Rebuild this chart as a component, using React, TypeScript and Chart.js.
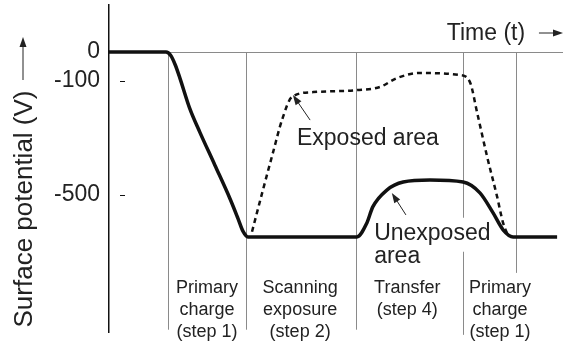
import React, { useEffect, useRef } from "react";
import { Chart, registerables } from "chart.js";

Chart.register(...registerables);

// ---- data ----
const solidT = [0, 12.56, 13.6, 14.6, 15.6, 17.8, 20.0, 23.3, 26.7, 28.4, 29.5, 30.6, 54.6, 56.8, 58.1, 61.2, 64.8, 70.7, 78.0, 81.7, 84.6, 86.8, 89.0, 98.7];
const solidV = [0, 0, -12, -45, -90, -198, -280, -395, -515, -582, -627, -647, -647, -598, -542, -483, -455, -448, -455, -493, -563, -622, -647, -647];

const exposedT = [31.5, 33.9, 36.1, 38.1, 40.3, 45.0, 54.6, 59.7, 63.4, 68.5, 77.3, 79.5, 81.1, 83.3, 85.5, 86.8, 87.9];
const exposedV = [-629, -483, -353, -238, -157, -140, -133, -122, -91, -73, -80, -105, -213, -367, -507, -598, -643];

const yTicks = [0, -100, -500];
const stageT = [13.0, 30.2, 54.4, 78.0, 89.6];
const stageLabelT = [21.6, 42.1, 65.7, 86.1];
const stageLabels = [
  ["Primary", "charge", "(step 1)"],
  ["Scanning", "exposure", "(step 2)"],
  ["Transfer", "(step 4)"],
  ["Primary", "charge", "(step 1)"],
];

const FONT = '"Liberation Sans", Arial, Helvetica, sans-serif';
const TEXT = "#222";

function arrow(ctx: CanvasRenderingContext2D, x1: number, y1: number, x2: number, y2: number, head: number, width: number) {
  ctx.save();
  ctx.strokeStyle = TEXT;
  ctx.fillStyle = TEXT;
  ctx.lineWidth = 1;
  const a = Math.atan2(y2 - y1, x2 - x1);
  ctx.beginPath();
  ctx.moveTo(x1, y1);
  ctx.lineTo(x2 - Math.cos(a) * head * 0.8, y2 - Math.sin(a) * head * 0.8);
  ctx.stroke();
  ctx.beginPath();
  ctx.moveTo(x2, y2);
  ctx.lineTo(x2 - Math.cos(a) * head - Math.sin(a) * width, y2 - Math.sin(a) * head + Math.cos(a) * width);
  ctx.lineTo(x2 - Math.cos(a) * head + Math.sin(a) * width, y2 - Math.sin(a) * head - Math.cos(a) * width);
  ctx.closePath();
  ctx.fill();
  ctx.restore();
}

const decor = {
  id: "decor",
  beforeDatasetsDraw(chart: any) {
    const ctx = chart.ctx as CanvasRenderingContext2D;
    const xs = chart.scales.x;
    const ys = chart.scales.y;
    const area = chart.chartArea;
    ctx.save();
    ctx.strokeStyle = "#8a8a8a";
    ctx.lineWidth = 1;
    // zero line
    const y0 = Math.round(ys.getPixelForValue(0)) + 0.5;
    ctx.beginPath();
    ctx.moveTo(area.left, y0);
    ctx.lineTo(area.right, y0);
    ctx.stroke();
    // stage boundaries
    const segs: number[][][] = [
      [[0, ys.min + 8]],
      [[0, ys.min + 8]],
      [[0, -972]],
      [[0, -580], [-699, ys.min - 10]],
      [[0, -773]],
    ];
    stageT.forEach((t, i) => {
      const x = Math.round(xs.getPixelForValue(t)) + 0.5;
      segs[i].forEach(([a, b]) => {
        ctx.beginPath();
        ctx.moveTo(x, ys.getPixelForValue(a));
        ctx.lineTo(x, ys.getPixelForValue(b));
        ctx.stroke();
      });
    });
    ctx.restore();
  },
  afterDraw(chart: any) {
    const ctx = chart.ctx as CanvasRenderingContext2D;
    const xs = chart.scales.x;
    const ys = chart.scales.y;
    const area = chart.chartArea;
    const X = (t: number) => xs.getPixelForValue(t);
    const Y = (v: number) => ys.getPixelForValue(v);
    ctx.save();
    // inner tick dashes
    ctx.strokeStyle = "#111";
    ctx.lineWidth = 1;
    yTicks.filter((v) => v !== 0).forEach((v) => {
      const y = Math.round(Y(v)) + 0.5;
      ctx.beginPath();
      ctx.moveTo(area.left + 11, y);
      ctx.lineTo(area.left + 16, y);
      ctx.stroke();
    });

    ctx.fillStyle = TEXT;
    ctx.textBaseline = "alphabetic";
    // y title
    ctx.save();
    ctx.font = `26px ${FONT}`;
    ctx.translate(32, 209);
    ctx.rotate(-Math.PI / 2);
    ctx.textAlign = "center";
    ctx.fillText("Surface potential (V)", 0, 0);
    ctx.restore();
    arrow(ctx, 23, 80, 23, 37, 10, 3.5);

    // Time label
    ctx.font = `23px ${FONT}`;
    ctx.textAlign = "left";
    ctx.fillText("Time (t)", X(74.4), 40);
    arrow(ctx, X(94.7), 33, area.right, 33, 10, 3.5);

    // Exposed area
    ctx.fillText("Exposed area", X(41.4), Y(-325));
    arrow(ctx, X(44.3), Y(-238), X(40.5), Y(-150), 10, 3.5);

    // Unexposed area
    ctx.fillText("Unexposed", X(58.4), Y(-657));
    ctx.fillText("area", X(58.4), Y(-738));
    arrow(ctx, X(65.4), Y(-570), X(62.3), Y(-493), 10, 3.5);

    // stage labels
    ctx.font = `18px ${FONT}`;
    ctx.textAlign = "center";
    stageLabels.forEach((lines, i) => {
      lines.forEach((s, j) => {
        ctx.fillText(s, X(stageLabelT[i]), area.bottom - 39 + j * 22);
      });
    });
    ctx.restore();
  },
};

export default function App() {
  const ref = useRef<HTMLCanvasElement | null>(null);
  useEffect(() => {
    if (!ref.current) return;
    const chart = new Chart(ref.current, {
      type: "line",
      data: {
        datasets: [
          {
            label: "Exposed area",
            data: exposedT.map((t, i) => ({ x: t, y: exposedV[i] })),
            borderColor: "#111",
            borderWidth: 2.5,
            borderDash: [5, 4],
            pointRadius: 0,
            cubicInterpolationMode: "monotone",
            fill: false,
          },
          {
            label: "Unexposed area",
            data: solidT.map((t, i) => ({ x: t, y: solidV[i] })),
            borderColor: "#111",
            borderWidth: 3.5,
            pointRadius: 0,
            cubicInterpolationMode: "monotone",
            fill: false,
          },
        ],
      },
      options: {
        animation: false,
        responsive: true,
        maintainAspectRatio: false,
        layout: { padding: { top: 5, bottom: 13, left: 0, right: 0 } },
        plugins: { legend: { display: false }, tooltip: { enabled: false } },
        scales: {
          x: { type: "linear", min: 0, max: 100, display: false },
          y: {
            type: "linear",
            min: -980,
            max: 165,
            afterFit: (s: any) => {
              s.width = 109;
              s.paddingTop = 0;
              s.paddingBottom = 0;
            },
            afterBuildTicks: (s: any) => {
              s.ticks = yTicks.map((v) => ({ value: v }));
            },
            grid: { display: false, drawTicks: false },
            border: { display: true, color: "#111", width: 1.5 },
            ticks: {
              padding: 9,
              color: TEXT,
              font: { family: FONT, size: 23 },
              callback: (v: any) => String(v),
            },
          },
        },
      },
      plugins: [decor],
    });
    return () => chart.destroy();
  }, []);
  return (
    <div style={{ position: "absolute", left: 0, top: 0, width: 563, height: 345, background: "#fff" }}>
      <canvas ref={ref} />
    </div>
  );
}
